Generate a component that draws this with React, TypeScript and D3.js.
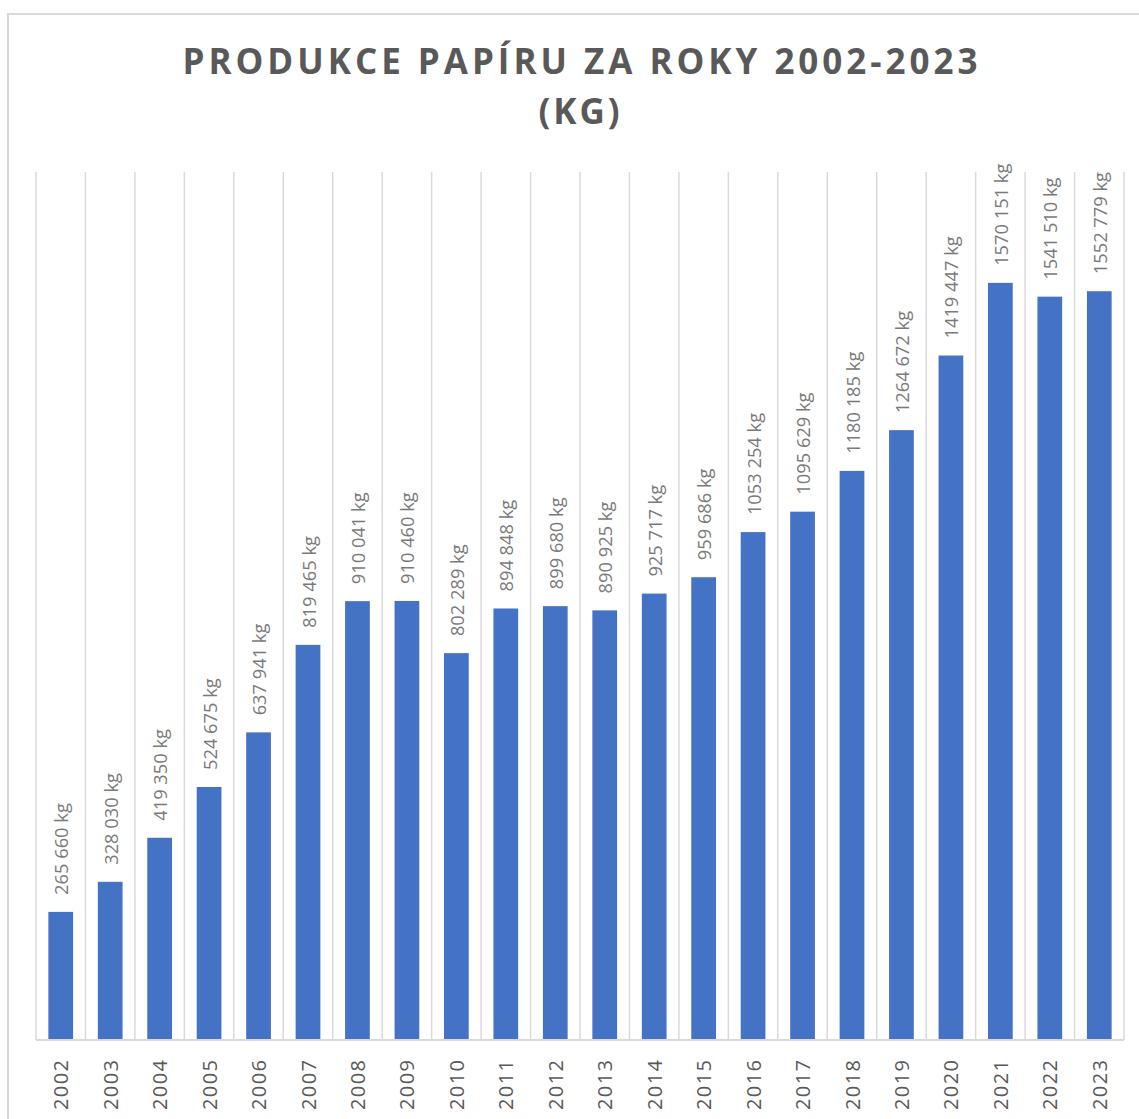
import React from "react";
import * as d3 from "d3";

const years = ["2002","2003","2004","2005","2006","2007","2008","2009","2010","2011","2012","2013","2014","2015","2016","2017","2018","2019","2020","2021","2022","2023"];
const values = [265660,328030,419350,524675,637941,819465,910041,910460,802289,894848,899680,890925,925717,959686,1053254,1095629,1180185,1264672,1419447,1570151,1541510,1552779];
const yMax = 1800000;
const titleLines = ["PRODUKCE PAPÍRU ZA ROKY 2002-2023", "(KG)"];

const W = 1139, H = 1119;
const left = 36, right = 1124, top = 172, bottom = 1040;

function fmt(v: number) {
  const hi = Math.floor(v / 1000);
  const lo = String(v % 1000).padStart(3, "0");
  return `${hi} ${lo} kg`;
}

export default function App() {
  const x = d3.scaleBand<string>().domain(years).range([left, right]).paddingInner(0.5).paddingOuter(0.25);
  const y = d3.scaleLinear().domain([0, yMax]).range([bottom, top]);
  const step = x.step();
  const grid = d3.range(years.length + 1).map(i => left + i * step);
  return (
    <svg width={W} height={H} style={{ position: "absolute", left: 0, top: 0 }} fontFamily="'Open Sans', sans-serif">
      <rect x={0} y={0} width={W} height={H} fill="#fff" />
      <rect x={8} y={14} width={W + 20} height={H + 20} fill="#fff" stroke="#d9d9d9" strokeWidth={2} />
      <text x={580} y={74} textAnchor="middle" fontWeight="bold" fontSize={35} fill="#595959" textLength={795} lengthAdjust="spacing">{titleLines[0]}</text>
      <text x={579} y={124} textAnchor="middle" fontWeight="bold" fontSize={35} fill="#595959" textLength={81} lengthAdjust="spacing">{titleLines[1]}</text>
      {grid.map((gx, i) => (
        <line key={i} x1={gx} x2={gx} y1={top} y2={bottom} stroke="#d9d9d9" strokeWidth={1.5} />
      ))}
      {years.map((yr, i) => (
        <rect key={yr} x={x(yr)!} y={y(values[i])} width={x.bandwidth()} height={bottom - y(values[i])} fill="#4472C4" />
      ))}
      <line x1={left} x2={right} y1={bottom} y2={bottom} stroke="#d9d9d9" strokeWidth={2} />
      {years.map((yr, i) => {
        const cx = x(yr)! + x.bandwidth() / 2;
        const ty = y(values[i]) - 17;
        return (
          <text key={"l" + yr} transform={`translate(${cx},${ty}) rotate(-90)`} fontSize={18.3} fill="#7a7a7a" dominantBaseline="central">{fmt(values[i])}</text>
        );
      })}
      {years.map((yr) => {
        const cx = x(yr)! + x.bandwidth() / 2;
        return (
          <text key={"a" + yr} transform={`translate(${cx},${1110}) rotate(-90)`} fontSize={20} fill="#595959" dominantBaseline="central" letterSpacing={1.4}>{yr}</text>
        );
      })}
    </svg>
  );
}
